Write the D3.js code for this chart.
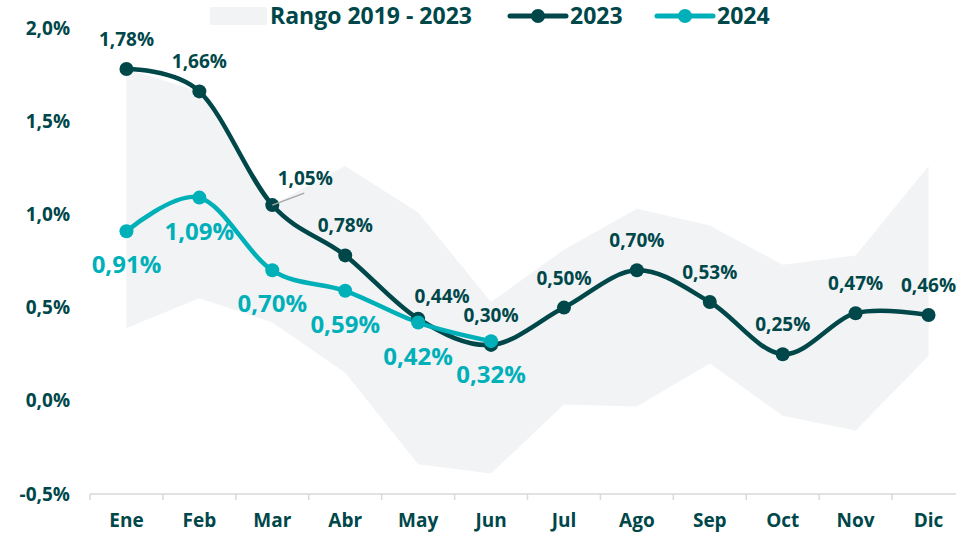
<!DOCTYPE html>
<html>
<head>
<meta charset="utf-8">
<script src="https://cdn.jsdelivr.net/npm/d3@7"></script>
<style>
  body { margin: 0; background: #fff; }
  svg { display: block; font-family: "Open Sans", sans-serif; font-weight: 700; }
</style>
</head>
<body>
<div id="wrapper"></div>
<script>
const months = ["Ene", "Feb", "Mar", "Abr", "May", "Jun", "Jul", "Ago", "Sep", "Oct", "Nov", "Dic"]
const values2023 = [1.78, 1.66, 1.05, 0.78, 0.44, 0.30, 0.50, 0.70, 0.53, 0.25, 0.47, 0.46]
const values2024 = [0.91, 1.09, 0.70, 0.59, 0.42, 0.32]
const rangeMin = [0.39, 0.55, 0.42, 0.15, -0.34, -0.39, -0.02, -0.03, 0.20, -0.08, -0.16, 0.24]
const rangeMax = [1.78, 1.66, 1.05, 1.26, 1.01, 0.53, 0.81, 1.03, 0.94, 0.73, 0.78, 1.26]
const yTicks = [-0.5, 0, 0.5, 1.0, 1.5, 2.0]
const legendItems = ["Rango 2019 - 2023", "2023", "2024"]

function drawChart() {
  const dimensions = {
    width: 956,
    height: 533,
    left: 90,
    right: 965,
    top: 28,
    bottom: 494,
  }
  const dark = "#00474a"
  const cyan = "#00b0b9"
  const band = "#f2f3f5"

  const fmt = v => d3.format(".2f")(v).replace(".", ",") + "%"
  // spreadsheet style: plain hyphen for negatives
  const fmtTick = v => d3.format(".1f")(v).replace(".", ",").replace("\u2212", "-") + "%"

  const svg = d3.select("#wrapper")
    .append("svg")
      .attr("width", dimensions.width)
      .attr("height", dimensions.height)

  const xScale = d3.scaleBand()
    .domain(months)
    .range([dimensions.left, dimensions.right])
  const xCenter = m => xScale(m) + xScale.bandwidth() / 2

  const yScale = d3.scaleLinear()
    .domain([-0.5, 2.0])
    .range([dimensions.bottom, dimensions.top])

  // range band (straight segments)
  const area = d3.area()
    .x((d, i) => xCenter(months[i]))
    .y0((d, i) => yScale(rangeMin[i]))
    .y1((d, i) => yScale(rangeMax[i]))
  svg.append("path")
    .attr("d", area(months))
    .attr("fill", band)

  // y axis labels only
  const yAxis = d3.axisLeft(yScale)
    .tickValues(yTicks)
    .tickFormat(fmtTick)
    .tickSize(0)
    .tickPadding(0)
  const yAxisGroup = svg.append("g")
    .attr("transform", `translate(70,0)`)
    .call(yAxis)
  yAxisGroup.select(".domain").remove()
  yAxisGroup.selectAll("text")
    .attr("fill", dark)
    .style("font-size", "19px")
    .style("font-family", "Open Sans")
    .style("font-weight", 700)

  // x axis with ticks between categories
  const xAxisGroup = svg.append("g")
    .attr("transform", `translate(0,${dimensions.bottom})`)
  xAxisGroup.append("line")
    .attr("x1", dimensions.left)
    .attr("x2", dimensions.right)
    .attr("stroke", "#d9d9d9")
    .attr("stroke-width", 1.5)
  xAxisGroup.selectAll(".sep")
    .data(months)
    .enter().append("line")
      .attr("x1", d => xScale(d))
      .attr("x2", d => xScale(d))
      .attr("y1", 0)
      .attr("y2", 6)
      .attr("stroke", "#d9d9d9")
      .attr("stroke-width", 1.5)
  xAxisGroup.selectAll(".month")
    .data(months)
    .enter().append("text")
      .attr("x", d => xCenter(d))
      .attr("y", 33)
      .attr("text-anchor", "middle")
      .attr("fill", dark)
      .style("font-size", "19px")
      .text(d => d)

  const line = d3.line()
    .x(d => xCenter(d.m))
    .y(d => yScale(d.v))
    .curve(d3.curveCardinal.tension(0))

  const series2023 = values2023.map((v, i) => ({ m: months[i], v }))
  const series2024 = values2024.map((v, i) => ({ m: months[i], v }))

  svg.append("path")
    .attr("d", line(series2023))
    .attr("fill", "none")
    .attr("stroke", dark)
    .attr("stroke-width", 4.5)
    .attr("stroke-linecap", "round")

  svg.append("path")
    .attr("d", line(series2024))
    .attr("fill", "none")
    .attr("stroke", cyan)
    .attr("stroke-width", 4.5)
    .attr("stroke-linecap", "round")

  svg.selectAll(".dot2023")
    .data(series2023)
    .enter().append("circle")
      .attr("cx", d => xCenter(d.m))
      .attr("cy", d => yScale(d.v))
      .attr("r", 7)
      .attr("fill", dark)

  svg.selectAll(".dot2024")
    .data(series2024)
    .enter().append("circle")
      .attr("cx", d => xCenter(d.m))
      .attr("cy", d => yScale(d.v))
      .attr("r", 7)
      .attr("fill", cyan)

  // label nudges for 2023 (layout only)
  const nudge2023 = { Mar: [33, -20], May: [24, -16] }

  // leader line for Mar label
  const mar = series2023[2]
  svg.append("line")
    .attr("x1", xCenter(mar.m))
    .attr("y1", yScale(mar.v))
    .attr("x2", xCenter(mar.m) + 32)
    .attr("y2", yScale(mar.v) - 12)
    .attr("stroke", "#a6a6a6")
    .attr("stroke-width", 1.5)

  svg.selectAll(".lab2023")
    .data(series2023)
    .enter().append("text")
      .attr("x", d => xCenter(d.m) + (nudge2023[d.m] ? nudge2023[d.m][0] : 0))
      .attr("y", d => yScale(d.v) + (nudge2023[d.m] ? nudge2023[d.m][1] : -23))
      .attr("text-anchor", "middle")
      .attr("fill", dark)
      .style("font-size", "19px")
      .text(d => fmt(d.v))

  svg.selectAll(".lab2024")
    .data(series2024)
    .enter().append("text")
      .attr("x", d => xCenter(d.m))
      .attr("y", d => yScale(d.v) + 42)
      .attr("text-anchor", "middle")
      .attr("fill", cyan)
      .style("font-size", "24px")
      .text(d => fmt(d.v))

  // legend
  const legend = svg.append("g")
  legend.append("rect")
    .attr("x", 210)
    .attr("y", 7)
    .attr("width", 57)
    .attr("height", 18)
    .attr("rx", 2)
    .attr("fill", band)
  legend.append("text")
    .attr("x", 270)
    .attr("y", 24)
    .attr("fill", dark)
    .style("font-size", "23px")
    .text(legendItems[0])

  const lineLegend = [
    { x: 510, color: dark, label: legendItems[1] },
    { x: 657, color: cyan, label: legendItems[2] },
  ]
  lineLegend.forEach(d => {
    legend.append("line")
      .attr("x1", d.x)
      .attr("x2", d.x + 56)
      .attr("y1", 16)
      .attr("y2", 16)
      .attr("stroke", d.color)
      .attr("stroke-width", 5)
      .attr("stroke-linecap", "round")
    legend.append("circle")
      .attr("cx", d.x + 28)
      .attr("cy", 16)
      .attr("r", 7)
      .attr("fill", d.color)
    legend.append("text")
      .attr("x", d.x + 60)
      .attr("y", 24)
      .attr("fill", dark)
      .style("font-size", "23px")
      .text(d.label)
  })
}
drawChart()
</script>
</body>
</html>
